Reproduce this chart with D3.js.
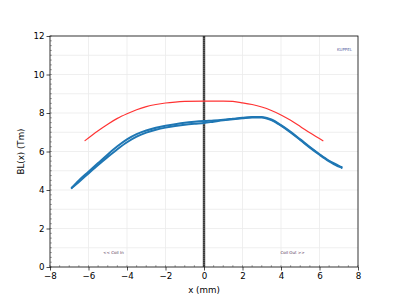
<!DOCTYPE html>
<html><head><meta charset="utf-8">
<script src="https://cdn.jsdelivr.net/npm/d3@7"></script>
<style>body{margin:0;background:#fff}svg{display:block;font-family:"DejaVu Sans",sans-serif}</style>
</head><body><svg id="c" width="400" height="300"></svg>
<script>
const redX = [-6.2,-5.5,-5,-4.5,-4,-3.5,-3,-2.5,-2,-1.5,-1,0,1,1.5,2,2.5,3,3.5,4,4.5,5,5.5,6.2];
const redY = [6.55,7.08,7.42,7.72,7.96,8.17,8.33,8.44,8.52,8.57,8.6,8.62,8.62,8.6,8.53,8.44,8.31,8.13,7.9,7.62,7.3,6.97,6.55];
const blueX = [-6.87,-6.5,-6,-5.5,-5,-4.5,-4,-3.5,-3,-2.5,-2,-1.5,-1,-0.5,0,0.5,1,1.5,2,2.5,3,3.5,4,4.5,5,5.5,6,6.5,7,7.15];
const blueUp = [4.12,4.5,4.95,5.4,5.85,6.27,6.63,6.9,7.09,7.23,7.34,7.42,7.49,7.54,7.58,7.61,7.65,7.7,7.75,7.79,7.79,7.66,7.37,7.02,6.63,6.23,5.86,5.52,5.25,5.15];
const blueDown = [4.1,4.42,4.86,5.3,5.72,6.12,6.48,6.77,6.98,7.13,7.24,7.32,7.39,7.44,7.48,7.55,7.62,7.68,7.73,7.77,7.77,7.63,7.34,6.99,6.6,6.2,5.83,5.49,5.22,5.2];
const xTicks = [-8,-6,-4,-2,0,2,4,6,8];
const yTicks = [0,2,4,6,8,10,12];
const labels = {x:"x (mm)", y:"BL(x) (Tm)", tag:"KUPPEL", left:"<< Coil In", right:"Coil Out >>"};

const svg = d3.select("#c");
const L=50,R=358,T=36,B=267;
const x = d3.scaleLinear().domain([-8,8]).range([L,R]);
const y = d3.scaleLinear().domain([0,12]).range([B,T]);
const g = svg.append("g");
g.selectAll(".hg").data(d3.range(1,12,1)).enter().append("line")
  .attr("x1",L).attr("x2",R).attr("y1",d=>y(d)).attr("y2",d=>y(d))
  .attr("stroke","#ebebeb").attr("stroke-width",0.8);
g.selectAll(".vg").data(xTicks.slice(1,-1)).enter().append("line")
  .attr("y1",T).attr("y2",B).attr("x1",d=>x(d)).attr("x2",d=>x(d))
  .attr("stroke","#ebebeb").attr("stroke-width",0.8);
g.selectAll(".mx").data(d3.range(-8,8.01,0.5)).enter().append("line")
  .attr("x1",d=>x(d)).attr("x2",d=>x(d)).attr("y1",B).attr("y2",B-2)
  .attr("stroke","#777").attr("stroke-width",0.6);
g.selectAll(".my").data(d3.range(0,12.01,0.25)).enter().append("line")
  .attr("x1",L).attr("x2",L+2).attr("y1",d=>y(d)).attr("y2",d=>y(d))
  .attr("stroke","#777").attr("stroke-width",0.6);
g.append("line").attr("x1",x(0)).attr("x2",x(0)).attr("y1",T).attr("y2",B)
  .attr("stroke","#3a3a3a").attr("stroke-width",2.4);
g.append("line").attr("x1",x(0)).attr("x2",x(0)).attr("y1",T).attr("y2",B)
  .attr("stroke","#999").attr("stroke-width",0.7).attr("stroke-dasharray","1,1");
const line = d3.line().x(d=>x(d[0])).y(d=>y(d[1])).curve(d3.curveMonotoneX);
g.append("path").attr("d",line(redX.map((v,i)=>[v,redY[i]])))
  .attr("fill","none").attr("stroke","#ff3333").attr("stroke-width",1.2);
[blueUp, blueDown].forEach(arr=>{
  g.append("path").attr("d",line(blueX.map((v,i)=>[v,arr[i]])))
   .attr("fill","none").attr("stroke","#1f77b4").attr("stroke-width",2).attr("stroke-linecap","round");
});
g.append("rect").attr("x",L).attr("y",T).attr("width",R-L).attr("height",B-T)
  .attr("fill","none").attr("stroke","#000").attr("stroke-width",0.8);
const xa = svg.append("g").attr("transform",`translate(0,${B})`)
  .call(d3.axisBottom(x).tickValues(xTicks).tickFormat(d=>d<0?"\u2212"+(-d):d).tickSize(3.5).tickPadding(2));
const ya = svg.append("g").attr("transform",`translate(${L},0)`)
  .call(d3.axisLeft(y).tickValues(yTicks).tickSize(3.5).tickPadding(2));
[xa,ya].forEach(a=>{a.select(".domain").remove();
  a.selectAll("text").attr("font-size","8.7px").attr("fill","#000").attr("font-family","DejaVu Sans");
  a.selectAll("line").attr("stroke","#000").attr("stroke-width",0.7);});
svg.append("text").attr("x",(L+R)/2).attr("y",293).attr("text-anchor","middle")
  .attr("font-size","8.7px").text(labels.x);
svg.append("text").attr("transform",`translate(24,${(T+B)/2}) rotate(-90)`).attr("text-anchor","middle")
  .attr("font-size","8.7px").text(labels.y);
svg.append("text").attr("x",x(7.3)).attr("y",y(11.2)).attr("text-anchor","middle")
  .attr("font-size","4px").attr("fill","#5560a0").text(labels.tag);
svg.append("text").attr("x",x(-4.7)).attr("y",y(0.65)).attr("text-anchor","middle")
  .attr("font-size","4px").attr("fill","#553355").text(labels.left);
svg.append("text").attr("x",x(4.6)).attr("y",y(0.65)).attr("text-anchor","middle")
  .attr("font-size","4px").attr("fill","#553355").text(labels.right);
</script></body></html>
